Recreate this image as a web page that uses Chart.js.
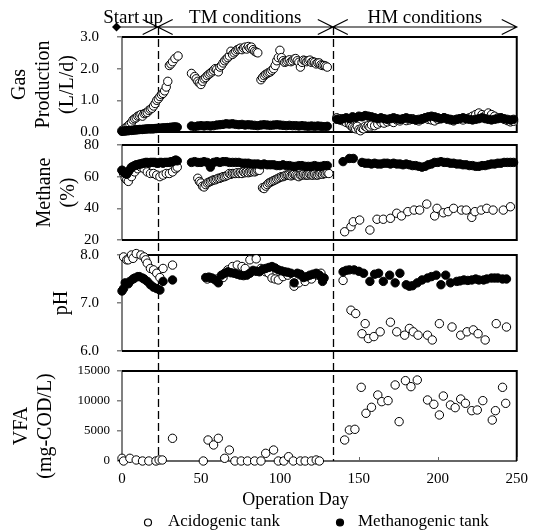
<!DOCTYPE html>
<html>
<head>
<meta charset="utf-8">
<script src="https://cdn.jsdelivr.net/npm/chart.js@4/dist/chart.umd.min.js"></script>
<style>
  html, body { margin: 0; padding: 0; background: #fff; }
  canvas { display: block; }
</style>
</head>
<body>
<canvas id="chart" width="537" height="531"></canvas>
<script>
// ---- data (x = operation day) ----
const gasAcidDays = [0,1,2,3,4,5,6,7,8,9,10,11,12,13,14,15,16,17,18,19,20,21,22,23,24,25,26,27,28,29,30,31,32,33.5,35.5,
  44,46,47,48,49,50,51,52,53,54,55,56,57,58,59,60,61,62,63,64,65,66,67,68,69,70,71,72,73,74,75,76,77,78,79,80,81,82,83,84,85,86,
  88,89,90,91,92,93,94,95,96,97,98,99,100,101,102,103,104,105,106,107,108,109,110,111,112,113,114,115,116,117,118,119,120,121,122,123,124,125,126,127,128,129,130,
  136,137,138,139,140,142,144,145,146,147,148,149,150,151,152,153,154,155,156,157,158,
  160,162,164,166,168,170,172,174,176,178,180,182,184,186,188,190,192,194,196,198,200,202,204,206,208,210,212,214,216,218,220,222,224,226,228,230,232,234,236,238,240,242,244,246,248];
const gasAcidValues = [0.05,0.08,0.12,0.15,0.2,0.25,0.3,0.38,0.42,0.45,
  0.5,0.52,0.55,0.5,0.58,0.6,0.62,0.68,0.72,0.75,
  0.82,0.9,1.0,1.05,1.12,1.18,1.22,1.3,1.42,1.6,
  2.1,2.15,2.22,2.32,2.4,
  1.85,1.75,1.68,1.6,1.55,1.5,1.6,1.68,1.72,1.78,1.82,
  1.86,1.9,1.95,2.0,1.98,1.9,2.05,2.1,2.18,2.25,
  2.3,2.35,2.4,2.55,2.45,2.5,2.55,2.6,2.62,2.65,
  2.6,2.65,2.68,2.62,2.7,2.65,2.68,2.6,2.55,2.52,2.5,
  1.65,1.72,1.78,1.82,1.85,1.88,1.9,1.95,2.0,2.1,
  2.25,2.35,2.58,2.35,2.25,2.2,2.22,2.25,2.28,2.22,
  2.25,2.3,2.32,2.25,2.2,2.05,2.2,2.27,2.25,2.22,
  2.25,2.27,2.2,2.22,2.2,2.15,2.18,2.18,2.12,2.1,
  2.1,2.08,2.05,
  0.45,0.4,0.42,0.38,0.35,0.3,0.25,
  0.2,0.15,0.12,0.1,0.18,0.08,0.04,0.12,0.1,0.18,0.15,0.2,0.16,0.22,
  0.2,0.25,0.3,0.28,0.32,0.35,0.3,0.38,0.35,0.4,
  0.36,0.38,0.42,0.38,0.35,0.4,0.44,0.4,0.38,0.35,
  0.4,0.42,0.45,0.4,0.38,0.35,0.4,0.42,0.38,0.42,
  0.45,0.5,0.55,0.6,0.55,0.52,0.6,0.55,0.5,0.45,
  0.44,0.4,0.36,0.32,0.34];

const gasMethDays = [0,1,2,3,4,5,6,7,8,9,10,11,12,13,14,15,16,17,18,19,20,21,22,23,24,25,26,27,28,29,30,31,32,33,34,35,
  44,46,48,50,52,54,56,58,60,62,64,66,68,70,72,74,76,78,80,82,84,86,88,90,92,94,96,98,100,102,104,106,108,110,112,114,116,118,120,122,124,126,128,130,
  136,138,140,142,144,146,148,150,152,154,156,158,160,162,164,166,168,170,172,174,176,178,180,182,184,186,188,190,192,194,196,198,200,202,204,206,208,210,212,214,216,218,220,222,224,226,228,230,232,234,236,238,240,242,244,246,248];
const gasMethValues = [0.02,0.03,0.03,0.04,0.04,0.05,0.05,0.06,0.06,0.07,
  0.07,0.08,0.08,0.08,0.09,0.09,0.1,0.1,0.1,0.1,
  0.1,0.11,0.11,0.12,0.12,0.12,0.13,0.13,0.13,0.14,
  0.14,0.15,0.15,0.16,0.16,0.15,
  0.19,0.17,0.19,0.2,0.19,0.2,0.19,0.2,0.22,0.23,
  0.24,0.26,0.25,0.26,0.24,0.23,0.24,0.22,0.23,0.22,
  0.21,0.2,0.22,0.23,0.22,0.21,0.22,0.23,0.22,0.21,
  0.2,0.21,0.2,0.2,0.19,0.2,0.19,0.18,0.19,0.18,
  0.19,0.18,0.17,0.18,
  0.4,0.38,0.42,0.45,0.42,0.48,0.45,0.5,0.48,0.52,
  0.5,0.48,0.45,0.42,0.45,0.42,0.4,0.42,0.45,0.42,
  0.4,0.42,0.45,0.42,0.4,0.38,0.4,0.42,0.45,0.48,
  0.5,0.48,0.45,0.42,0.45,0.42,0.4,0.38,0.4,0.42,
  0.45,0.42,0.4,0.38,0.4,0.42,0.45,0.42,0.4,0.38,
  0.4,0.42,0.45,0.42,0.4,0.38,0.4];

const ch4AcidDays = [0,1,2,3,4,6,8,10,12,14,16,18,20,22,24,26,28,30,32,34,35,
  48,49,50,51,52,53,54,55,56,57,58,59,60,61,62,63,64,65,66,67,68,69,70,71,72,73,74,75,76,77,78,79,80,81,82,83,84,85,86,87,
  89,90,91,92,93,94,95,96,97,98,99,100,101,102,103,104,105,106,107,108,109,110,111,112,113,114,115,116,117,118,119,120,121,122,123,124,125,126,127,128,129,130,131,
  141,145,146.5,150.5,157,161.5,165.5,170,174,177,181,185,188.5,193,198,199.5,203.5,206.5,210,215,218,221.5,223.5,227.5,231,235,241.5,246];
const ch4AcidValues = [64,62,59,58,57,60,63,65,66,65,63,62,62,61,60,61,62,62,63,65,66,
  59,57,56,54,53.5,55,56,56.5,57,57.5,
  58,58,58.5,59,59,59.5,60,60,60.5,61,
  62,61.5,62,62,62,62.5,62,62.5,62,63,
  62.5,63,62.5,63,63,63.5,63,63.5,64,64,
  53,52.5,54,55,56,56.5,57,57.5,58,58.5,
  59,59.5,60,60,60.5,61,61,61,60.5,61,
  61.5,61,60.5,60,61,61,61.5,61,61,61,
  61.5,61,61,61.5,61,61,61.5,62,61.5,62,
  62,62.5,62,
  25.2,28.4,31.5,32.6,26.3,33.1,33.1,33.7,36.9,35.2,
  37.9,38.9,38.9,42.7,35.2,40,37.2,37.9,40,38.9,
  38.9,34.3,37.9,38.9,40,38.9,38.9,41];

const ch4MethDays = [0,1,2,3,4,5,6,7,8,9,10,11,12,13,14,15,16,17,18,19,20,21,22,23,24,25,26,27,28,29,30,31,32,33,34,35,
  44,46,48,50,52,54,56,58,60,62,64,66,68,70,72,74,76,78,80,82,84,86,88,90,92,94,96,98,100,102,104,106,108,110,112,114,116,118,120,122,124,126,128,130,
  140,144,146.5,
  152,154,156,158,160,162,164,166,168,170,172,174,176,178,180,182,184,186,188,190,192,194,196,198,200,202,204,206,208,210,212,214,216,218,220,222,224,226,228,230,232,234,236,238,240,242,244,246,248];
const ch4MethValues = [64,63,62,61.5,63,64.5,66,66.5,67,67.5,
  67.5,68,68,68.5,68.5,69,69,68.5,69,69,
  69,69,68.5,68.5,69,69,68.5,69,69,69,
  69,69.5,69.5,70,70.5,70,
  69,69.5,69,69,69.5,69,66,69,69.5,69,
  69.5,69.5,69,69,69,69,68.5,68.5,68.5,68,
  68,68,67.5,68,67.5,67.5,67.5,67,67,67.5,
  67,67,66.5,66.5,67,67,66.5,66.5,66.5,67,
  66.5,66.5,67,67,
  69.5,71.5,71.5,
  69,68.5,68.5,68,68.5,68,68,68.5,68.5,68,
  68.5,68,68,67.5,68,67.5,67,67,66.5,66,
  66.5,67.5,68,69,69,69.5,69,69,68.5,68.5,
  68,68,67.5,67.5,67,67,66.5,66.5,67,67,
  67.5,68,68,68.5,68.5,69,69,69,69];

const phAcidDays = [1,3,4,6,7,9,12,14,15,16,18,20,22,24,26,32,
  54,56,60,64,67,70,73,76,78,81,85,88,91,93,95,97,99,102,105,109,112,116,120,124,126,
  140,145,148,152,154,156,159.5,163.5,170,174,179,182,184.5,187.5,193.5,196.5,201,209,214.5,218.5,222.5,225.5,230,237,243.5];
const phAcidValues = [7.96,7.9,7.9,8.0,7.93,8.03,8.0,7.96,7.9,7.83,7.72,7.69,7.62,7.53,7.72,7.79,
  7.5,7.52,7.5,7.53,7.69,7.76,7.79,7.76,7.72,7.9,7.92,7.72,7.65,7.62,7.52,7.5,7.48,7.55,7.58,7.35,7.42,7.45,7.5,7.58,7.62,
  7.47,6.85,6.78,6.36,6.57,6.26,6.3,6.4,6.6,6.4,6.33,6.47,6.4,6.33,6.33,6.23,6.57,6.5,6.33,6.4,6.44,6.36,6.23,6.57,6.5];

const phMethDays = [0,1,2,4,5,7,8,10,11,13,14,16,18,20,22,24,26,32,
  53,55,57,59,61,63,65,67,69,71,73,75,77,79,81,83,85,87,89,91,93,95,97,99,101,103,105,107,109,111,113,115,117,119,121,123,125,127,128,
  140,142,144,147,150,153,157,160,162.5,165.5,169.5,173,176,180,182,184,187,190,193.5,196,199,202,205,208,212,214,216.5,219,221.5,224,226,229,231,234,236,238,241,243.5];
const phMethValues = [7.25,7.3,7.42,7.4,7.45,7.5,7.52,7.55,7.55,7.52,7.5,7.45,7.38,7.33,7.3,7.27,7.45,7.48,
  7.53,7.54,7.52,7.48,7.42,7.58,7.62,7.65,7.63,7.62,
  7.6,7.58,7.57,7.58,7.62,7.68,7.66,7.65,7.7,7.72,
  7.74,7.76,7.73,7.69,7.67,7.65,7.64,7.62,7.42,7.62,
  7.6,7.53,7.55,7.58,7.6,7.62,7.58,7.45,7.52,
  7.65,7.68,7.69,7.69,7.66,7.62,7.45,7.6,7.62,7.45,
  7.58,7.42,7.62,7.38,7.35,7.36,7.42,7.48,7.52,7.55,
  7.58,7.38,7.58,7.42,7.45,7.46,7.48,7.47,7.48,7.5,
  7.48,7.48,7.5,7.52,7.52,7.52,7.5,7.5];

const vfaAcidDays = [0,1,5,9,13,17,21.5,23.5,25.5,32,
  51.5,54.5,58,61,65,68,71.5,75.5,79.5,84,88,91,96,99,102.5,105.5,108.5,113,116,120,123,125,
  141,144,147.5,151.5,154.5,158,162,164.5,168.5,173,175.5,179.5,183,187,193.5,197.5,201,203.5,
  208,211,214.5,217.5,221.5,225,228.5,234.5,236.5,241,243];
const vfaAcidValues = [450,0,450,170,0,0,0,170,170,3780,
  0,3500,2670,3780,450,1830,0,0,0,0,0,1280,1830,0,0,720,0,0,0,0,170,0,
  3500,5170,5280,12280,7950,8950,11000,9890,10060,12670,6560,13390,12390,13500,10170,9450,7670,10830,
  9340,8890,10330,9610,8390,8500,10060,6830,8390,12280,9610];

const phaseEnds = [22.6, 133.5, 250];
const phaseNames = ['Start up', 'TM conditions', 'HM conditions'];
const seriesNames = ['Acidogenic tank', 'Methanogenic tank'];
const xTitle = 'Operation Day';

const serif = "'Liberation Serif', 'Times New Roman', serif";
Chart.defaults.font.family = serif;
Chart.defaults.color = '#000';

const pts = (days, vals) => days.map((d, i) => ({ x: d, y: vals[i] }));

function series(label, days, vals, axis, filled) {
  return {
    label,
    data: pts(days, vals),
    yAxisID: axis,
    showLine: false,
    pointRadius: 4.2,
    pointBorderWidth: 1,
    pointBorderColor: '#000',
    pointBackgroundColor: filled ? '#000' : '#fff',
    order: filled ? 1 : 2,
    clip: false
  };
}

function panelAxis(o) {
  return {
    type: 'linear', position: 'left', stack: 'panels', stackWeight: o.h, weight: o.w,
    min: o.min, max: o.max,
    ticks: { stepSize: o.step, autoSkip: false, font: { size: o.tickSize }, padding: o.pad, color: '#000', callback: o.fmt },
    grid: { drawOnChartArea: false, drawTicks: true, tickLength: 5, color: '#808080', lineWidth: 1.5 },
    border: { display: true, color: '#808080', width: 2 },
    title: { display: true, text: o.title, color: '#000', font: { size: 20, lineHeight: 1.2 }, padding: { top: o.tpad, bottom: 0 } },
    afterFit: s => { s.width = 122; }
  };
}

function gapAxis(h, w) {
  return {
    type: 'linear', position: 'left', stack: 'panels', stackWeight: h, weight: w,
    ticks: { display: false }, grid: { display: false, drawTicks: false }, border: { display: false },
    afterFit: s => { s.width = 122; }
  };
}

const decor = {
  id: 'decor',
  beforeDatasetsDraw(chart) {
    const { ctx, chartArea: a, scales } = chart;
    ctx.save();
    ctx.strokeStyle = '#000';
    ctx.lineWidth = 2;
    ['yGas', 'yCh4', 'yPh', 'yVfa'].forEach(id => {
      const s = scales[id];
      ctx.beginPath();
      ctx.moveTo(a.left, s.top);
      ctx.lineTo(a.right, s.top);
      ctx.lineTo(a.right, s.bottom);
      if (id !== 'yVfa') ctx.lineTo(a.left, s.bottom);
      ctx.stroke();
    });
    // small inward ticks on the day axis
    ctx.strokeStyle = '#666';
    ctx.lineWidth = 1;
    scales.x.ticks.forEach(t => {
      const px = Math.round(scales.x.getPixelForValue(t.value)) + 0.5;
      ctx.beginPath();
      ctx.moveTo(px, a.bottom);
      ctx.lineTo(px, a.bottom - 4);
      ctx.stroke();
    });
    // phase boundaries
    ctx.strokeStyle = '#000';
    ctx.lineWidth = 1.3;
    ctx.setLineDash([8, 4]);
    phaseEnds.slice(0, 2).forEach(d => {
      const px = Math.round(scales.x.getPixelForValue(d)) + 0.5;
      ctx.beginPath();
      ctx.moveTo(px, a.top - 10);
      ctx.lineTo(px, a.bottom);
      ctx.stroke();
    });
    ctx.restore();
  },
  afterDraw(chart) {
    const { ctx, chartArea: a, scales } = chart;
    const x = scales.x;
    const yA = a.top - 10;
    ctx.save();
    ctx.strokeStyle = '#000';
    ctx.fillStyle = '#000';
    ctx.lineWidth = 1.2;
    const dx = a.left - 5.5;
    // diamond at the start
    ctx.beginPath();
    ctx.moveTo(dx, yA - 4.5); ctx.lineTo(dx + 4.5, yA); ctx.lineTo(dx, yA + 4.5); ctx.lineTo(dx - 4.5, yA);
    ctx.closePath();
    ctx.fill();
    ctx.font = '19px ' + serif;
    ctx.textAlign = 'center';
    ctx.textBaseline = 'alphabetic';
    phaseEnds.forEach((d, i) => {
      const from = i === 0 ? dx : x.getPixelForValue(phaseEnds[i - 1]);
      const to = x.getPixelForValue(d);
      ctx.beginPath();
      ctx.moveTo(from, yA); ctx.lineTo(to, yA);
      ctx.moveTo(to - 15, yA - 7.5); ctx.lineTo(to, yA); ctx.lineTo(to - 15, yA + 7.5);
      if (i > 0) {
        ctx.moveTo(from + 15, yA - 7.5); ctx.lineTo(from, yA); ctx.lineTo(from + 15, yA + 7.5);
      }
      ctx.stroke();
      const cx = (from + to) / 2 - (i === 0 ? 4 : 0);
      ctx.fillText(phaseNames[i], cx, 22.5);
    });
    // x title
    ctx.font = '18px ' + serif;
    ctx.fillText(xTitle, 295.5, 505);
    // legend
    ctx.font = '17px ' + serif;
    ctx.textAlign = 'left';
    ctx.textBaseline = 'middle';
    const items = [[148, 168, false], [340, 358, true]];
    items.forEach(([mx, tx, filled], i) => {
      ctx.beginPath();
      ctx.arc(mx, 522.5, 3.5, 0, Math.PI * 2);
      ctx.fillStyle = filled ? '#000' : '#fff';
      ctx.fill();
      ctx.lineWidth = 1.2;
      ctx.stroke();
      ctx.fillStyle = '#000';
      ctx.fillText(seriesNames[i], tx, 522);
    });
    ctx.restore();
  }
};

new Chart(document.getElementById('chart'), {
  type: 'scatter',
  data: {
    datasets: [
      series(seriesNames[0], gasAcidDays, gasAcidValues, 'yGas', false),
      series(seriesNames[1], gasMethDays, gasMethValues, 'yGas', true),
      series(seriesNames[0], ch4AcidDays, ch4AcidValues, 'yCh4', false),
      series(seriesNames[1], ch4MethDays, ch4MethValues, 'yCh4', true),
      series(seriesNames[0], phAcidDays, phAcidValues, 'yPh', false),
      series(seriesNames[1], phMethDays, phMethValues, 'yPh', true),
      series(seriesNames[0], vfaAcidDays, vfaAcidValues, 'yVfa', false)
    ]
  },
  options: {
    responsive: false,
    animation: false,
    events: [],
    devicePixelRatio: 1,
    layout: { padding: { top: 37, right: 13, left: 0, bottom: 0 } },
    plugins: { legend: { display: false }, tooltip: { enabled: false } },
    scales: {
      x: {
        type: 'linear', position: 'bottom', min: 0, max: 250,
        ticks: { stepSize: 50, autoSkip: false, font: { size: 15 }, padding: 9, color: '#000' },
        grid: { display: false, drawTicks: false },
        border: { display: true, color: '#666', width: 2 },
        afterFit: s => { s.height = 70; }
      },
      yGas: panelAxis({ h: 95, w: 7, min: 0, max: 3, step: 1, tickSize: 15, pad: 18, fmt: v => v.toFixed(1),
        title: ['Gas', 'Production', '(L/L/d)'], tpad: 8 }),
      g1: gapAxis(13, 6),
      yCh4: panelAxis({ h: 95, w: 5, min: 20, max: 80, step: 20, tickSize: 15, pad: 18, fmt: v => v,
        title: ['Methane', '(%)'], tpad: 33 }),
      g2: gapAxis(15, 4),
      yPh: panelAxis({ h: 96, w: 3, min: 6, max: 8, step: 1, tickSize: 15, pad: 18, fmt: v => v.toFixed(1),
        title: 'pH', tpad: 50 }),
      g3: gapAxis(20, 2),
      yVfa: panelAxis({ h: 90, w: 1, min: 0, max: 15000, step: 5000, tickSize: 13, pad: 7, fmt: v => v,
        title: ['VFA    ', '(mg-COD/L)    '], tpad: 10 })
    }
  },
  plugins: [decor]
});
</script>
</body>
</html>
